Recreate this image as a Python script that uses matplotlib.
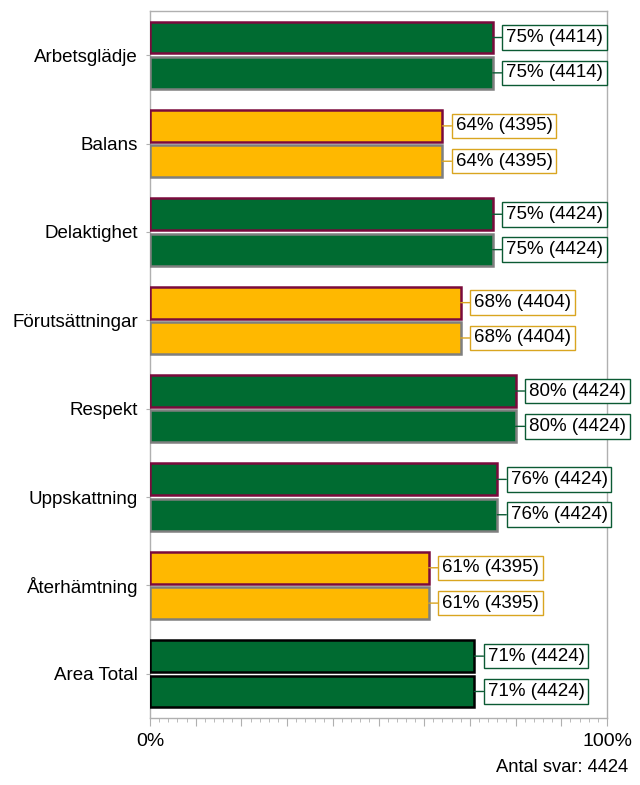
import matplotlib
matplotlib.use("Agg")
import matplotlib.pyplot as plt
from matplotlib.ticker import MultipleLocator

categories = ["Arbetsglädje", "Balans", "Delaktighet", "Förutsättningar",
              "Respekt", "Uppskattning", "Återhämtning", "Area Total"]
values_a = [75, 64, 75, 68, 80, 76, 61, 71]
counts_a = [4414, 4395, 4424, 4404, 4424, 4424, 4395, 4424]
values_b = [75, 64, 75, 68, 80, 76, 61, 71]
counts_b = [4414, 4395, 4424, 4404, 4424, 4424, 4395, 4424]
bar_colors = ["green", "yellow", "green", "yellow", "green", "green", "yellow", "green"]
total_answers = 4424

GREEN = "#006B31"
YELLOW = "#FFB800"
fill = {"green": GREEN, "yellow": YELLOW}
boxedge = {"green": "#0B5A33", "yellow": "#D9A520"}

plt.rcParams['font.family'] = ['Liberation Sans', 'DejaVu Sans']

fig = plt.figure(figsize=(6.4, 7.85), dpi=100)
ax = fig.add_axes([150/640, 1 - 718/785, (607-150)/640, (718-11)/785])

n = len(categories)
h = 0.36
for i in range(n):
    top_edge = "#000000" if categories[i] == "Area Total" else "#7A0A3C"
    bot_edge = "#000000" if categories[i] == "Area Total" else "#7F7F7F"
    for yoff, val, cnt, ec in ((-0.2, values_a[i], counts_a[i], top_edge),
                               (0.2, values_b[i], counts_b[i], bot_edge)):
        y = i + yoff
        ax.barh(y, val, height=h, color=fill[bar_colors[i]], edgecolor=ec,
                linewidth=1.8, zorder=3)
        ax.annotate(f"{val}% ({cnt})", xy=(val, y), xytext=(9.5, 0),
                    textcoords="offset points", ha="left", va="center",
                    fontsize=13.5, color="black",
                    bbox=dict(boxstyle="square,pad=0.2", fc="white",
                              ec=boxedge[bar_colors[i]], lw=1),
                    arrowprops=dict(arrowstyle="-", color=boxedge[bar_colors[i]],
                                    lw=1, shrinkA=0, shrinkB=0),
                    zorder=4, annotation_clip=False)

ax.set_xlim(0, 100)
ax.set_ylim(n - 0.5, -0.5)
ax.set_yticks(range(n))
ax.set_yticklabels(categories, fontsize=13.5)
ax.xaxis.set_minor_locator(MultipleLocator(2))
ax.set_xticks(range(0, 101, 10))
ax.set_xticklabels(["0%"] + [""] * 9 + ["100%"], fontsize=14)
gray = "#B0B0B0"
for s in ax.spines.values():
    s.set_color(gray)
    s.set_linewidth(1)
ax.tick_params(axis="y", length=3, color=gray, pad=5.5)
ax.tick_params(axis="x", which="major", length=6, color=gray, pad=5)
ax.tick_params(axis="x", which="minor", length=3, color=gray)

fig.text(628/640, 1 - 768/785, f"Antal svar: {total_answers}", ha="right",
         va="center", fontsize=13.2)

fig.savefig("out.png", dpi=100)
